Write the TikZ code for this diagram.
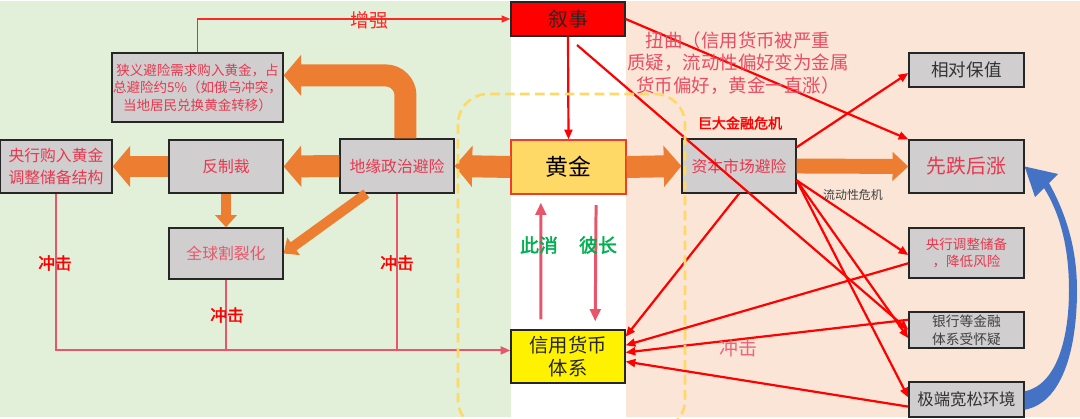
\documentclass[tikz,border=0pt]{standalone}
\usepackage{fontspec}
\setmainfont{Noto Sans CJK SC}[AutoFakeBold=2]
\usetikzlibrary{arrows.meta}

\definecolor{leftbg}{HTML}{E2F0D9}
\definecolor{rightbg}{HTML}{FBE5D6}
\definecolor{boxgray}{HTML}{D0CECE}
\definecolor{goldfill}{HTML}{FFD966}
\definecolor{goldedge}{HTML}{F03C28}
\definecolor{fatorange}{HTML}{ED7D31}
\definecolor{loopblue}{HTML}{4472C4}
\definecolor{shockred}{HTML}{E8566B}
\definecolor{textred}{HTML}{E8384F}
\definecolor{calmgreen}{HTML}{00B050}
\definecolor{dashgold}{HTML}{FFD966}

\newcommand{\fsz}[2]{\fontsize{#1pt}{#2pt}\selectfont}

\tikzset{
  box/.style={draw=black!85, fill=boxgray, line width=0.75pt, inner sep=0pt,
    align=center, minimum width=2.28cm},
  lbl/.style={inner sep=0pt, align=center},
  fatarrow/.style={fatorange, line width=12.5pt, -{Triangle[length=10pt,width=23pt]}},
  midfat/.style={fatorange, line width=8.5pt, -{Triangle[length=9pt,width=16pt]}},
  thinfat/.style={fatorange, line width=5.7pt, -{Triangle[length=7pt,width=12pt]}},
  link/.style={red, line width=1.25pt, -{Triangle[length=5.5pt,width=4.5pt]}},
  shock/.style={shockred, line width=1.15pt},
  swing/.style={shockred, line width=1.7pt, -{Triangle[length=7pt,width=6pt]}}
}

\begin{document}
\begin{tikzpicture}[x=0.02cm,y=-0.02cm]
  \useasboundingbox (0,0) rectangle (1080,419);
  % Background bands.
  \fill[leftbg] (0,1) rectangle (511,417);
  \fill[rightbg] (626,1) rectangle (1080,417);

  % Centre column: narrative, gold and credit money.
  \node[box, fill=red, minimum height=0.68cm, text=black!85, font=\fsz{11.3}{13}] (xushi) at (568,19) {叙事};
  \node[box, fill=goldfill, draw=goldedge, minimum width=2.3cm, minimum height=1.08cm,
    font=\fsz{13}{15}] (gold) at (568.5,167) {黄金};
  \node[box, fill=yellow, minimum height=1.06cm, text=black!85, font=\fsz{11}{13}] (credit) at (568,356.5) {信用货币\\体系};

  % Geopolitical side.
  \node[box, minimum height=1.08cm, text=textred, font=\fsz{9}{11}] (geo) at (397,166) {地缘政治避险};
  \node[box, minimum height=1.06cm, text=textred, font=\fsz{9}{11}] (sanction) at (226,166.5) {反制裁};
  \node[box, minimum width=2.24cm, minimum height=1.06cm, text=textred, font=\fsz{9}{12.5}] (cbbuy) at (56,166.5) {央行购入黄金\\调整储备结构};
  \node[box, minimum width=3.42cm, minimum height=1.38cm, text=textred, font=\fsz{7.7}{10}] (narrow) at (197.5,87.5)
    {狭义避险需求购入黄金，占\\总避险约5\%（如俄乌冲突，\\当地居民兑换黄金转移）};
  \node[box, minimum height=1.02cm, text=textred!85, font=\fsz{9}{11}] (split) at (226,253.5) {全球割裂化};

  % Capital-market side.
  \node[box, minimum height=1.08cm, text=textred, font=\fsz{9}{11}] (capital) at (739,166) {资本市场避险};
  \node[box, minimum width=2.3cm, minimum height=0.68cm, text=black!80, font=\fsz{10}{12}] (keep) at (966.5,70) {相对保值};
  \node[box, minimum width=2.3cm, minimum height=1.06cm, text=textred, font=\fsz{11.3}{13}] (dip) at (966.5,166.5) {先跌后涨};
  \node[box, minimum width=2.3cm, minimum height=1.0cm, text=textred, font=\fsz{7.7}{10}] (cbadj) at (966.5,253) {央行调整储备\\，降低风险};
  \node[box, minimum width=2.3cm, minimum height=0.72cm, text=black!75, font=\fsz{7.8}{10}] (bank) at (966.5,330) {银行等金融\\体系受怀疑};
  \node[box, minimum width=2.3cm, minimum height=0.7cm, text=black!80, font=\fsz{9.3}{11}] (loose) at (966.5,399.5) {极端宽松环境};

  % Fat orange arrows.
  \draw[fatarrow] (gold.west) -- (geo.east);
  \draw[fatarrow] (gold.east) -- (capital.west);
  \draw[fatarrow] (geo.west) -- (sanction.east);
  \draw[fatarrow] (sanction.west) -- (cbbuy.east);
  \draw[fatarrow, rounded corners=0.4cm] (geo.73) |- (narrow.8);
  \draw[midfat] (capital.east) -- (dip.west);
  \draw[thinfat] (sanction.south) -- (split.north);
  \draw[thinfat] (geo.222) -- (split.east);

  % Blue loop from the loose environment back up.
  \fill[loopblue] (loose.8) .. controls (1056,385) and (1069,340) .. (1069,290)
    .. controls (1069,245) and (1059,212) .. (1044,188)
    -- (1035,197) -- (dip.east) -- (1058,174) -- (1049,183)
    .. controls (1064,210) and (1077,245) .. (1077,290)
    .. controls (1077,350) and (1062,403) .. (loose.-10) -- cycle;

  % Narrative links.
  \coordinate (xs0) at (577,45);
  \draw[red!85, line width=0.8pt, -{Triangle[length=5pt,width=4pt]}] (narrow.north) |- (xushi.west);
  \draw[link] (xushi.south) -- (gold.north);
  \draw[link] (xushi.east) -- (dip.north west);
  \draw[link] (xs0) -- (bank.west);

  % Links out of the capital-market box.
  \draw[link] (capital.18) -- (keep.183);
  \draw[link] (capital.south) -- (credit.19);
  \draw[link] (capital.-14) -- (cbadj.182);
  \draw[link] (capital.-14) -- (bank.188);
  \draw[link] (capital.-14) -- (loose.178);
  \draw[link] (cbadj.190) -- (credit.11);
  \draw[link] (bank.170) -- (credit.4);
  \draw[link] (loose.187) -- (credit.-5);

  % Shocks from the left onto credit money.
  \draw[shock, -{Triangle[length=5.5pt,width=4.5pt]}] (cbbuy.south) |- (credit.174);
  \draw[shock] (split.south) -- (split.south |- credit.174);
  \draw[shock] (geo.south) -- (geo.south |- credit.174);

  % Gold and credit money swing against each other.
  \draw[swing, shorten <=5.7pt, shorten >=4.5pt] (credit.135) -- (gold.225);
  \draw[swing, shorten <=6pt, shorten >=4.5pt] (gold.-45) -- (credit.45);

  % Dashed frame round the gold column.
  \draw[dashgold, line width=1.5pt, dash pattern=on 5.5pt off 3pt, rounded corners=0.6cm]
    (458,94) rectangle (685,430);

  % Labels.
  \node[lbl, text=red!85, font=\fsz{10.8}{13}] (zengqiang) at (369,20) {增强};
  \node[lbl, text=red, font=\bfseries\fsz{9.5}{11}] (shock1) at (55,263) {冲击};
  \node[lbl, text=red, font=\bfseries\fsz{9.5}{11}] (shock2) at (227,315) {冲击};
  \node[lbl, text=red, font=\bfseries\fsz{9.5}{11}] (shock3) at (397,263) {冲击};
  \node[lbl, text=shockred!90, font=\fsz{10.8}{13}] (shock4) at (738,348) {冲击};
  \node[lbl, text=calmgreen, font=\bfseries\fsz{10.8}{13}] (cixiao) at (539,245) {此消};
  \node[lbl, text=calmgreen, font=\bfseries\fsz{10.8}{13}] (bizhang) at (598,245) {彼长};
  \node[lbl, text=textred!90, font=\fsz{10.5}{13}] (niuqu) at (738,63)
    {扭曲（信用货币被严重\\质疑，流动性偏好变为金属\\货币偏好，黄金一直涨）};
  \node[lbl, text=red, font=\bfseries\fsz{8}{10}] (crisis) at (740,123) {巨大金融危机};
  \node[lbl, text=black!75, font=\fsz{6.8}{8}] (liquid) at (853,195) {流动性危机};
\end{tikzpicture}
\end{document}
